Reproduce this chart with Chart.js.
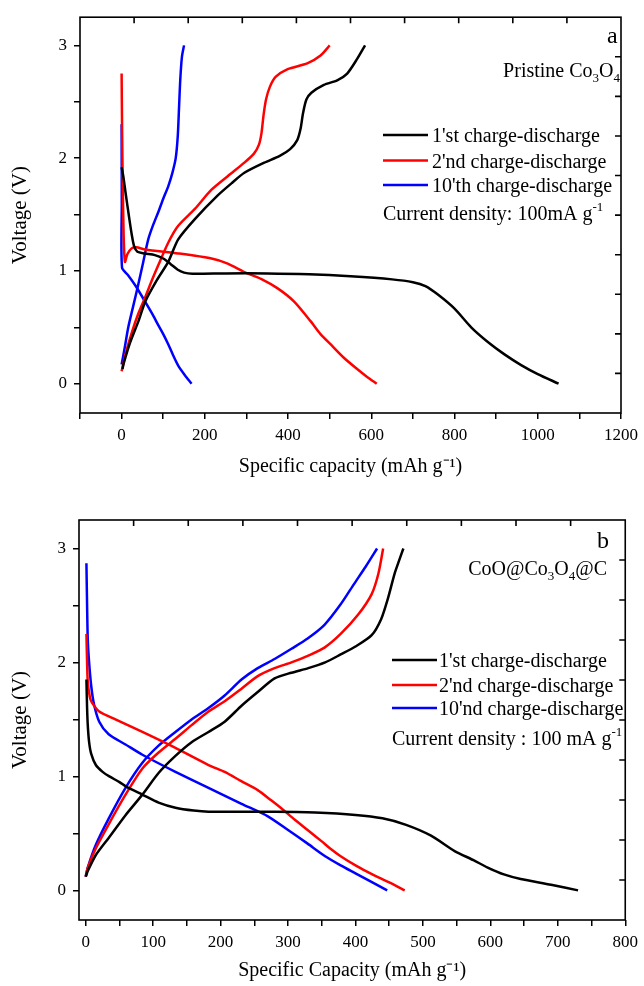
<!DOCTYPE html>
<html>
<head>
<meta charset="utf-8">
<script src="https://cdn.jsdelivr.net/npm/chart.js@4.4.0/dist/chart.umd.min.js"></script>
<style>
  html, body { margin: 0; padding: 0; background: #fff; }
  #wrap { position: relative; width: 644px; height: 986px; }
  canvas { position: absolute; left: 0; }
  #chartA { top: 0; }
  #chartB { top: 490px; }
</style>
</head>
<body>
<div id="wrap">
  <canvas id="chartA" width="644" height="490"></canvas>
  <canvas id="chartB" width="644" height="496"></canvas>
</div>
<script>
// cycle names and colours
const cyclesA = ["1'st charge-discharge", "2'nd charge-discharge", "10'th charge-discharge"];
const cyclesB = ["1'st charge-discharge", "2'nd charge-discharge", "10'nd charge-discharge"];
const cycleColors = ["#000000", "#ff0000", "#0000ff"];

// axis tick labels
const capLabelsA = [0, 200, 400, 600, 800, 1000, 1200];
const capLabelsB = [0, 100, 200, 300, 400, 500, 600, 700, 800];
const voltLabels = [0, 1, 2, 3];

// (a) pristine Co3O4 : [capacity mAh/g, voltage V]
const a1Discharge = [[0,1.92],[4,1.84],[10,1.68],[17,1.5],[24,1.33],[30,1.22],[38,1.17],[55,1.155],[80,1.14],[100,1.11],[118,1.06],[135,1.01],[150,0.985],[170,0.975],[250,0.978],[350,0.978],[450,0.97],[550,0.952],[650,0.925],[700,0.9],[730,0.865],[760,0.79],[800,0.665],[840,0.5],[880,0.37],[920,0.26],[960,0.165],[1000,0.085],[1050,0.0]];
const a1Charge = [[2,0.13],[5,0.18],[20,0.36],[40,0.55],[57,0.73],[85,0.92],[112,1.08],[136,1.28],[176,1.46],[231,1.67],[265,1.78],[295,1.87],[343,1.96],[380,2.02],[405,2.08],[422,2.16],[430,2.26],[436,2.4],[444,2.52],[456,2.58],[486,2.65],[518,2.69],[542,2.75],[566,2.88],[585,3.0]];
const a2Discharge = [[0,2.75],[1,2.3],[3,1.7],[5,1.3],[8,1.08],[14,1.15],[24,1.2],[35,1.21],[57,1.19],[136,1.155],[216,1.11],[255,1.065],[295,0.99],[335,0.93],[375,0.845],[414,0.73],[454,0.555],[478,0.44],[502,0.35],[534,0.23],[566,0.13],[590,0.06],[613,0.0]];
const a2Charge = [[0,0.11],[10,0.27],[25,0.46],[40,0.62],[56,0.76],[72,0.91],[88,1.05],[112,1.25],[136,1.4],[176,1.55],[216,1.72],[255,1.84],[295,1.96],[318,2.04],[330,2.12],[336,2.22],[341,2.38],[347,2.52],[356,2.63],[370,2.72],[399,2.79],[446,2.84],[478,2.91],[500,3.0]];
const a10Discharge = [[0,2.3],[0.4,1.6],[1,1.03],[16,0.96],[35,0.86],[56,0.73],[75,0.61],[88,0.52],[100,0.44],[112,0.35],[124,0.25],[136,0.16],[152,0.075],[168,0.0]];
const a10Charge = [[0,0.17],[8,0.33],[16,0.5],[28,0.69],[40,0.88],[52,1.08],[64,1.28],[76,1.41],[88,1.52],[100,1.64],[112,1.75],[122,1.87],[130,2.0],[135,2.2],[138,2.45],[141,2.7],[145,2.9],[150,3.0]];

// (b) CoO@Co3O4@C
const b1Discharge = [[1,1.85],[2,1.6],[3,1.45],[5,1.3],[8,1.2],[15,1.1],[25,1.04],[35,1.0],[50,0.95],[60,0.91],[84,0.84],[108,0.77],[133,0.725],[160,0.7],[182,0.69],[280,0.69],[340,0.683],[400,0.662],[440,0.632],[475,0.575],[512,0.48],[547,0.345],[575,0.265],[596,0.2],[620,0.14],[645,0.1],[690,0.05],[730,0.0]];
const b1Charge = [[0,0.12],[3,0.17],[15,0.31],[34,0.46],[59,0.66],[84,0.84],[108,1.03],[133,1.18],[157,1.3],[182,1.39],[206,1.48],[231,1.62],[255,1.74],[280,1.86],[305,1.91],[330,1.95],[355,2.0],[378,2.07],[400,2.14],[424,2.24],[438,2.38],[448,2.56],[458,2.78],[465,2.9],[471,3.0]];
const b2Discharge = [[1,2.25],[2,2.0],[3,1.83],[6,1.7],[9,1.65],[20,1.57],[44,1.5],[84,1.39],[133,1.25],[182,1.1],[206,1.04],[230,0.96],[255,0.88],[275,0.79],[290,0.72],[310,0.62],[329,0.53],[350,0.43],[362,0.37],[378,0.3],[400,0.22],[425,0.14],[450,0.07],[473,0.0]];
const b2Charge = [[0,0.12],[3,0.2],[15,0.37],[34,0.58],[59,0.84],[84,1.07],[108,1.21],[133,1.33],[157,1.45],[182,1.57],[206,1.66],[231,1.77],[255,1.88],[280,1.95],[305,2.0],[330,2.06],[354,2.13],[378,2.25],[404,2.42],[424,2.6],[434,2.78],[441,3.0]];
const b10Discharge = [[1,2.87],[2,2.5],[3,2.2],[5,2.0],[8,1.8],[12,1.64],[20,1.48],[34,1.37],[59,1.28],[84,1.19],[133,1.04],[182,0.9],[231,0.76],[270,0.65],[300,0.53],[329,0.41],[355,0.3],[378,0.22],[400,0.15],[425,0.07],[447,0.0]];
const b10Charge = [[0,0.12],[3,0.2],[15,0.4],[34,0.63],[59,0.9],[84,1.12],[108,1.27],[133,1.39],[157,1.5],[182,1.6],[206,1.71],[231,1.85],[255,1.95],[280,2.03],[305,2.12],[329,2.21],[354,2.33],[378,2.51],[398,2.69],[415,2.84],[432,3.0]];

const SERIF = '"Liberation Serif", "Times New Roman", serif';
Chart.defaults.color = "#000";
Chart.defaults.font.family = SERIF;

function toPoints(pairs) {
    return pairs.map(p => ({ x: p[0], y: p[1] }));
}

function buildDatasets(curves) {
    const sets = [];
    curves.forEach((pair, i) => {
        pair.forEach(branch => {
            sets.push({
                data: toPoints(branch),
                borderColor: cycleColors[i],
                borderWidth: 2.5,
                showLine: true,
                pointRadius: 0,
                tension: 0.25,
                fill: false
            });
        });
    });
    return sets;
}

// writes a row of text pieces; each piece is [text, size, baseline shift]
function drawRuns(ctx, runs, x, y, align) {
    const widths = runs.map(r => {
        ctx.font = `${r[1]}px ${SERIF}`;
        return ctx.measureText(r[0]).width;
    });
    const total = widths.reduce((a, b) => a + b, 0);
    let cx = align === "right" ? x - total : x;
    runs.forEach((r, i) => {
        ctx.font = `${r[1]}px ${SERIF}`;
        ctx.fillText(r[0], cx, y + r[2]);
        cx += widths[i];
    });
}

// frame, inner ticks on top/right, panel letter, sample name and legend
const panelDecor = {
    id: "panelDecor",
    afterDraw(chart, args, opts) {
        const ctx = chart.ctx;
        const area = chart.chartArea;
        ctx.save();
        ctx.strokeStyle = "#000";
        ctx.lineWidth = 1.6;
        ctx.strokeRect(area.left, area.top, area.right - area.left, area.bottom - area.top);

        const x2 = chart.scales.x2;
        const y2 = chart.scales.y2;
        ctx.beginPath();
        x2.ticks.forEach(t => {
            const px = x2.getPixelForValue(t.value);
            if (px > area.left + 2 && px < area.right - 2) {
                ctx.moveTo(px, area.top);
                ctx.lineTo(px, area.top + 6);
            }
        });
        y2.ticks.forEach(t => {
            const py = y2.getPixelForValue(t.value);
            if (py > area.top + 2 && py < area.bottom - 2) {
                ctx.moveTo(area.right, py);
                ctx.lineTo(area.right - 6, py);
            }
        });
        ctx.stroke();

        ctx.fillStyle = "#000";
        ctx.textBaseline = "alphabetic";
        ctx.textAlign = "left";
        ctx.font = `24px ${SERIF}`;
        ctx.fillText(opts.letter, opts.letterPos[0], opts.letterPos[1]);

        drawRuns(ctx, opts.material, opts.materialPos[0], opts.materialPos[1], "right");

        opts.labels.forEach((label, i) => {
            const y = opts.legendYs[i];
            ctx.strokeStyle = cycleColors[i];
            ctx.lineWidth = 2.5;
            ctx.beginPath();
            ctx.moveTo(opts.legendX, y);
            ctx.lineTo(opts.legendLineEnd, y);
            ctx.stroke();
            ctx.font = `20px ${SERIF}`;
            ctx.fillText(label, opts.legendTextX, y + 7);
        });

        drawRuns(ctx, opts.density, opts.densityPos[0], opts.densityPos[1], "left");
        ctx.restore();
    }
};

function buildScales(cfg) {
    return {
        x: {
            type: "linear",
            min: cfg.xMin,
            max: cfg.xMax,
            afterFit: s => { s.height = cfg.xAxisHeight; },
            ticks: {
                stepSize: cfg.xStep,
                autoSkip: false,
                maxRotation: 0,
                includeBounds: false,
                padding: 6,
                font: { size: 17 },
                callback: v => cfg.xLabels.includes(v) ? String(v) : ""
            },
            grid: { drawOnChartArea: false, drawTicks: true, tickLength: 6, color: "#000", lineWidth: 1.5 },
            border: { display: false },
            title: { display: true, text: cfg.xTitle, font: { size: 20 }, padding: { top: 0, bottom: cfg.xTitlePad } }
        },
        y: {
            type: "linear",
            min: -0.26,
            max: 3.25,
            afterFit: s => { s.width = cfg.yAxisWidth; },
            ticks: {
                stepSize: 0.5,
                autoSkip: false,
                includeBounds: false,
                padding: 7,
                font: { size: 17 },
                callback: v => voltLabels.includes(v) ? String(v) : ""
            },
            grid: { drawOnChartArea: false, drawTicks: true, tickLength: 6, color: "#000", lineWidth: 1.5 },
            border: { display: false },
            title: { display: true, text: "Voltage (V)", font: { size: 21 }, padding: { top: 8, bottom: 0 } }
        },
        x2: {
            type: "linear",
            position: "top",
            min: 0,
            max: 10,
            afterFit: s => { s.height = 0; },
            ticks: { display: false, stepSize: 1 },
            grid: { display: false },
            border: { display: false }
        },
        y2: {
            type: "linear",
            position: "right",
            min: 0,
            max: 10,
            afterFit: s => { s.width = 0; },
            ticks: { display: false, stepSize: 1 },
            grid: { display: false },
            border: { display: false }
        }
    };
}

function createPanel(canvasId, curves, scaleCfg, padding, decor) {
    const canvas = document.getElementById(canvasId);
    if (!canvas) return;

    new Chart(canvas, {
        type: "scatter",
        data: { datasets: buildDatasets(curves) },
        options: {
            responsive: false,
            animation: false,
            devicePixelRatio: 1,
            layout: { padding: padding },
            plugins: {
                legend: { display: false },
                tooltip: { enabled: false },
                panelDecor: decor
            },
            scales: buildScales(scaleCfg)
        },
        plugins: [panelDecor]
    });
}

createPanel(
    "chartA",
    [[a1Discharge, a1Charge], [a2Discharge, a2Charge], [a10Discharge, a10Charge]],
    {
        xMin: -100, xMax: 1200, xStep: 100, xLabels: capLabelsA,
        xAxisHeight: 77, xTitlePad: 11, yAxisWidth: 80,
        xTitle: "Specific capacity (mAh g\u207B\u00B9)"
    },
    { top: 13, right: 18, bottom: 0, left: 0 },
    {
        letter: "a", letterPos: [607, 43],
        material: [["Pristine Co", 20, 0], ["3", 13, 5], ["O", 20, 0], ["4", 13, 5]],
        materialPos: [620, 77],
        labels: cyclesA,
        legendX: 383, legendLineEnd: 428, legendTextX: 432,
        legendYs: [135, 160.5, 185],
        density: [["Current density: 100mA g", 20, 0], ["-1", 13, -9]],
        densityPos: [383, 220]
    }
);

createPanel(
    "chartB",
    [[b1Discharge, b1Charge], [b2Discharge, b2Charge], [b10Discharge, b10Charge]],
    {
        xMin: -10, xMax: 800, xStep: 50, xLabels: capLabelsB,
        xAxisHeight: 66, xTitlePad: 3, yAxisWidth: 79,
        xTitle: "Specific Capacity (mAh g\u207B\u00B9)"
    },
    { top: 30, right: 18, bottom: 0, left: 0 },
    {
        letter: "b", letterPos: [597, 58],
        material: [["CoO@Co", 20, 0], ["3", 13, 5], ["O", 20, 0], ["4", 13, 5], ["@C", 20, 0]],
        materialPos: [607, 85],
        labels: cyclesB,
        legendX: 392, legendLineEnd: 437, legendTextX: 439,
        legendYs: [170, 195, 218],
        density: [["Current density : 100 mA g", 20, 0], ["-1", 13, -9]],
        densityPos: [392, 255]
    }
);
</script>
</body>
</html>
